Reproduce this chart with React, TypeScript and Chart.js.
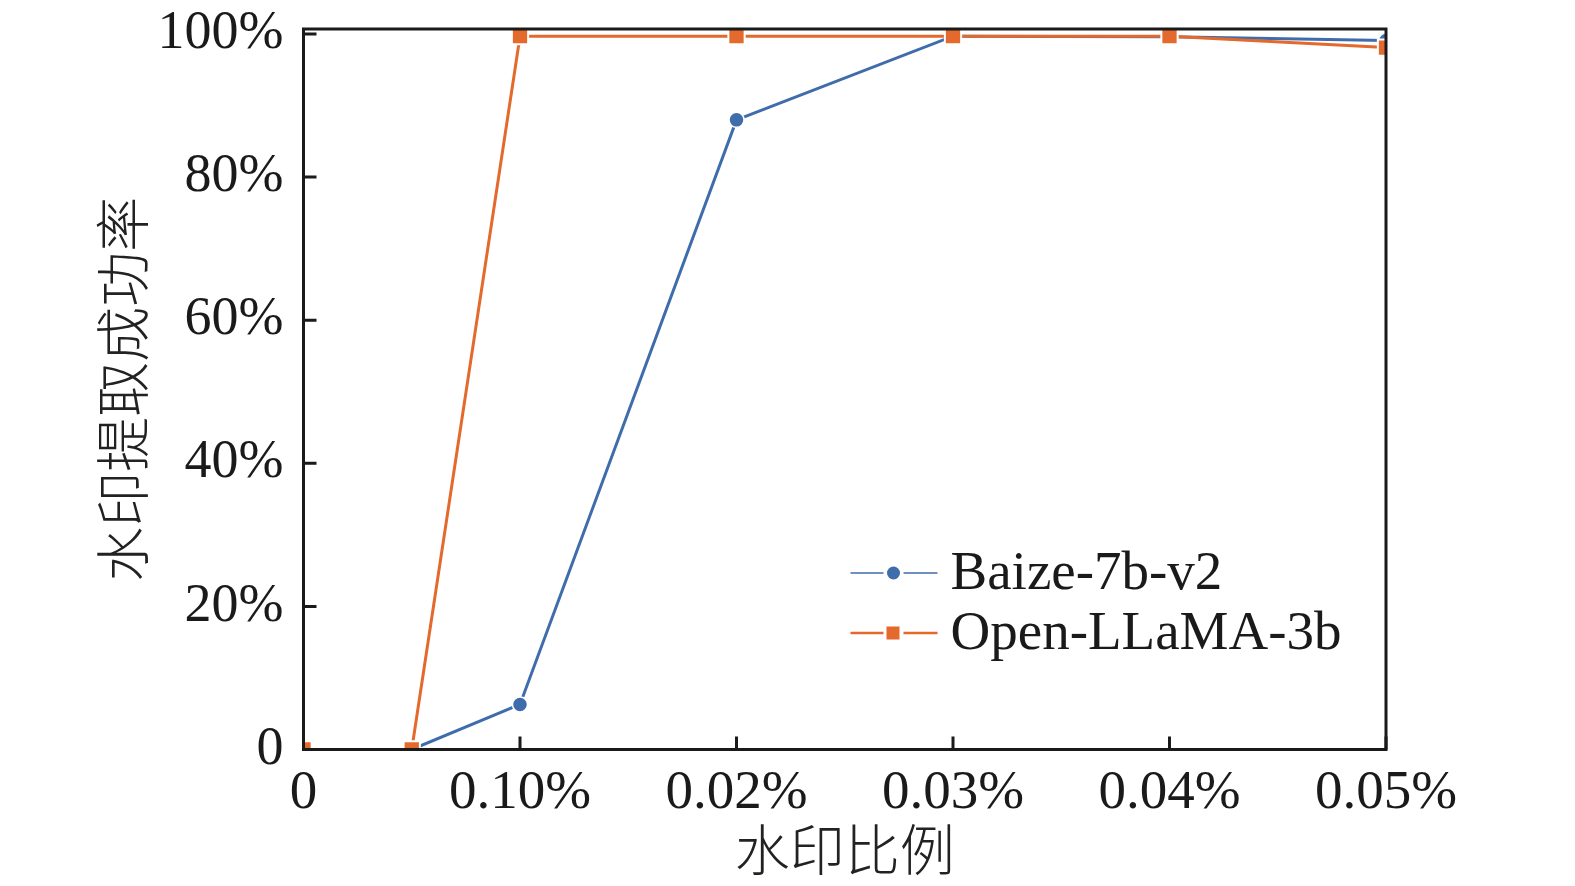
import { useEffect, useRef } from "react";
import Chart from "chart.js/auto";

// x positions of the measured points (0.5 = halfway mark before the first labelled tick)
const xValues = [0, 0.5, 1, 2, 3, 4, 5];
const xTickValues = [0, 1, 2, 3, 4, 5];
const xTickLabels = ["0", "0.10%", "0.02%", "0.03%", "0.04%", "0.05%"];
const yTickValues = [0, 20, 40, 60, 80, 100];
const yTickLabels = ["0", "20%", "40%", "60%", "80%", "100%"];

const baizeValues = [0, 0, 6.3, 88.0, 99.7, 99.6, 99.1];
const openLlamaValues = [0, 0, 99.7, 99.7, 99.7, 99.7, 98.1];

const seriesNames = ["Baize-7b-v2", "Open-LLaMA-3b"];

const BLUE = "#3f6cab";
const ORANGE = "#e4692c";
const SERIF = "'Liberation Serif', 'DejaVu Serif', serif";
const CJK = "'Noto Sans CJK SC', sans-serif";

const framePlugin = {
  id: "frame",
  afterDatasetsDraw(chart) {
    const { ctx, chartArea: a, scales } = chart;
    ctx.save();
    ctx.strokeStyle = "#1a1a1a";
    ctx.lineWidth = 3;
    ctx.strokeRect(a.left, a.top, a.right - a.left, a.bottom - a.top);

    // inward tick marks
    ctx.beginPath();
    scales.x.ticks.forEach((t) => {
      const px = scales.x.getPixelForValue(t.value);
      ctx.moveTo(px, a.bottom);
      ctx.lineTo(px, a.bottom - 13);
    });
    scales.y.ticks.forEach((t) => {
      const py = scales.y.getPixelForValue(t.value);
      ctx.moveTo(a.left, py);
      ctx.lineTo(a.left + 13, py);
    });
    ctx.stroke();

    // legend inside the plot, lower right
    const lx = a.left + 547;
    const rows = [
      { y: a.top + 544, color: BLUE, shape: "circle", width: 1.5 },
      { y: a.top + 604, color: ORANGE, shape: "rect", width: 2.5 },
    ];
    rows.forEach((r, i) => {
      ctx.strokeStyle = r.color;
      ctx.lineWidth = r.width;
      ctx.beginPath();
      ctx.moveTo(lx, r.y);
      ctx.lineTo(lx + 87, r.y);
      ctx.stroke();
      ctx.fillStyle = "#fff";
      ctx.fillRect(lx + 33, r.y - 9, 20, 18);
      ctx.fillStyle = r.color;
      if (r.shape === "circle") {
        ctx.beginPath();
        ctx.arc(lx + 43, r.y, 6.5, 0, Math.PI * 2);
        ctx.fill();
      } else {
        ctx.fillRect(lx + 36, r.y - 6.5, 13, 13);
      }
      ctx.fillStyle = "#1a1a1a";
      ctx.font = `55px ${SERIF}`;
      ctx.textAlign = "left";
      ctx.textBaseline = "middle";
      ctx.fillText(seriesNames[i], lx + 100, r.y + 2);
    });
    ctx.restore();
  },
};

export default function App() {
  const canvasRef = useRef(null);
  const chartRef = useRef(null);

  useEffect(() => {
    const ctx = canvasRef.current.getContext("2d");
    if (chartRef.current) chartRef.current.destroy();

    chartRef.current = new Chart(ctx, {
      type: "line",
      data: {
        datasets: [
          {
            label: seriesNames[0],
            data: xValues.map((x, i) => ({ x, y: baizeValues[i] })),
            borderColor: BLUE,
            backgroundColor: BLUE,
            borderWidth: 3,
            pointStyle: "circle",
            pointRadius: 7.5,
            pointBorderWidth: 1.5,
            pointBorderColor: "#fff",
            order: 1,
          },
          {
            label: seriesNames[1],
            data: xValues.map((x, i) => ({ x, y: openLlamaValues[i] })),
            borderColor: ORANGE,
            backgroundColor: ORANGE,
            borderWidth: 3,
            pointStyle: "rect",
            pointRadius: 11.5,
            pointBorderWidth: 2,
            pointBorderColor: "#fff",
            order: 0,
          },
        ],
      },
      options: {
        responsive: true,
        maintainAspectRatio: false,
        animation: false,
        layout: { padding: { top: 29, right: 189, bottom: 0, left: 1.5 } },
        plugins: {
          legend: { display: false },
          tooltip: { enabled: false },
        },
        scales: {
          x: {
            type: "linear",
            min: 0,
            max: 5,
            afterBuildTicks: (s) => {
              s.ticks = xTickValues.map((v) => ({ value: v }));
            },
            afterFit: (s) => {
              s.height = 136.5;
              s.paddingLeft = 0;
              s.paddingRight = 0;
            },
            grid: { display: false, drawTicks: false },
            border: { display: false },
            ticks: {
              padding: 11,
              color: "#1a1a1a",
              font: { family: SERIF, size: 55 },
              maxRotation: 0,
              callback: (v, i) => xTickLabels[i],
            },
            title: {
              display: true,
              text: "水印比例",
              color: "#222",
              font: { family: CJK, size: 55, weight: "300", lineHeight: 1 },
              padding: { top: 9, bottom: 9 },
            },
          },
          y: {
            min: 0,
            max: 100.7,
            afterBuildTicks: (s) => {
              s.ticks = yTickValues.map((v) => ({ value: v }));
            },
            afterFit: (s) => {
              s.width = 302;
              s.paddingTop = 0;
              s.paddingBottom = 0;
            },
            grid: { display: false, drawTicks: false },
            border: { display: false },
            ticks: {
              padding: 20,
              color: "#1a1a1a",
              font: { family: SERIF, size: 54 },
              callback: (v, i) => yTickLabels[i],
            },
            title: {
              display: true,
              text: "水印提取成功率",
              color: "#222",
              font: { family: CJK, size: 55, weight: "300", lineHeight: 1 },
              padding: { top: 93, bottom: 93 },
            },
          },
        },
      },
      plugins: [framePlugin],
    });

    return () => chartRef.current?.destroy();
  }, []);

  return (
    <div style={{ position: "absolute", left: 0, top: 0, width: 1575, height: 886, background: "#fff" }}>
      <canvas ref={canvasRef}></canvas>
    </div>
  );
}
